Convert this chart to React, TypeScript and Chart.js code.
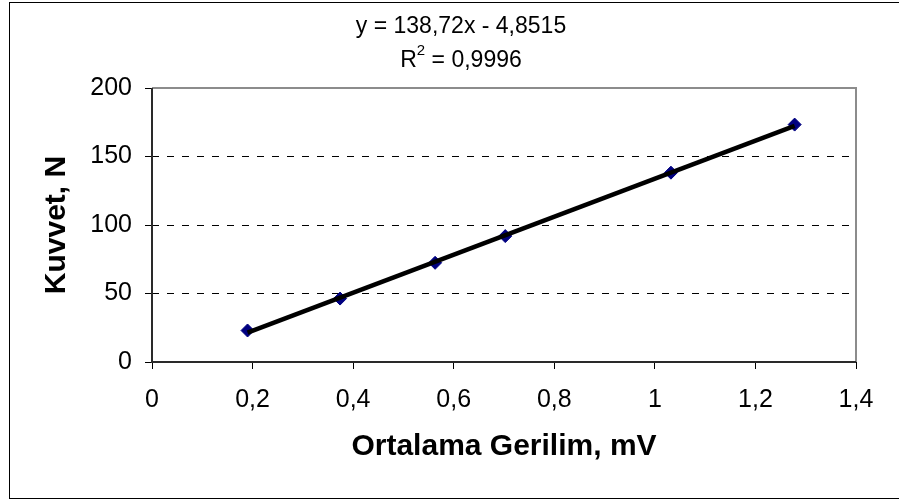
import React, { useEffect, useRef } from "react";
import { Chart, registerables } from "chart.js";

Chart.register(...registerables);

// ---- data ----
const voltage = [0.19, 0.374, 0.563, 0.7025, 1.032, 1.278];
const force = [23.0, 46.3, 72.4, 91.9, 138.2, 173.3];
const trendX = [0.19, 1.278];
const trendY = [21.5, 172.4];
const xTickLabels = ["0", "0,2", "0,4", "0,6", "0,8", "1", "1,2", "1,4"];
const yTickLabels = ["0", "50", "100", "150", "200"];
const equationText = "y = 138,72x - 4,8515";
const r2Label = "R";
const r2Sup = "2";
const r2Value = " = 0,9996";
const xTitle = "Ortalama Gerilim, mV";
const yTitle = "Kuvvet, N";

const FONT = "'Liberation Sans', Arial, sans-serif";

const framePlugin = {
  id: "framePlugin",
  beforeDraw(chart: any) {
    const ctx = chart.ctx;
    ctx.save();
    ctx.fillStyle = "#ffffff";
    ctx.fillRect(0, 0, chart.width, chart.height);
    ctx.strokeStyle = "#000000";
    ctx.lineWidth = 1;
    ctx.strokeRect(9.5, 2.5, chart.width + 20, 496);
    ctx.restore();
  },
  beforeDatasetsDraw(chart: any) {
    const { ctx, chartArea } = chart;
    const { left, right, top, bottom } = chartArea;
    ctx.save();
    ctx.lineWidth = 2;
    ctx.strokeStyle = "#8c8c8c";
    ctx.beginPath();
    ctx.moveTo(left, top);
    ctx.lineTo(right, top);
    ctx.lineTo(right, bottom);
    ctx.stroke();
    ctx.strokeStyle = "#2a2a2a";
    ctx.beginPath();
    ctx.moveTo(left, top);
    ctx.lineTo(left, bottom);
    ctx.lineTo(right, bottom);
    ctx.stroke();
    ctx.restore();
  },
  afterDraw(chart: any) {
    const ctx = chart.ctx;
    const cx = 461;
    ctx.save();
    ctx.fillStyle = "#000000";
    ctx.textBaseline = "alphabetic";
    ctx.font = `23px ${FONT}`;
    ctx.textAlign = "center";
    ctx.fillText(equationText, cx, 33);
    // second line with superscript
    ctx.textAlign = "left";
    const wR = ctx.measureText(r2Label).width;
    const wV = ctx.measureText(r2Value).width;
    ctx.font = `15px ${FONT}`;
    const wS = ctx.measureText(r2Sup).width;
    const total = wR + wS + wV;
    let x = cx - total / 2;
    ctx.font = `23px ${FONT}`;
    ctx.fillText(r2Label, x, 67);
    x += wR;
    ctx.font = `15px ${FONT}`;
    ctx.fillText(r2Sup, x, 55);
    x += wS;
    ctx.font = `23px ${FONT}`;
    ctx.fillText(r2Value, x, 67);
    ctx.restore();
  },
};

export default function App() {
  const canvasRef = useRef<HTMLCanvasElement | null>(null);

  useEffect(() => {
    if (!canvasRef.current) return;
    const chart = new Chart(canvasRef.current, {
      type: "scatter",
      data: {
        datasets: [
          {
            label: "Trend",
            data: trendX.map((x, i) => ({ x, y: trendY[i] })),
            showLine: true,
            borderColor: "#000000",
            borderWidth: 4.5,
            pointRadius: 0,
            pointHoverRadius: 0,
            order: 0,
          },
          {
            label: "Kuvvet",
            data: voltage.map((x, i) => ({ x, y: force[i] })),
            showLine: false,
            pointStyle: "rectRot",
            pointRadius: 6.5,
            pointBackgroundColor: "#000080",
            pointBorderColor: "#000080",
            pointBorderWidth: 1,
            order: 1,
          },
        ],
      },
      options: {
        responsive: false,
        animation: false,
        devicePixelRatio: 1,
        layout: { padding: { top: 88, right: 43, left: 0, bottom: 0 } },
        plugins: {
          legend: { display: false },
          tooltip: { enabled: false },
          title: { display: false },
        },
        scales: {
          x: {
            type: "linear",
            min: 0,
            max: 1.4,
            afterFit: (scale: any) => {
              scale.height = 137;
            },
            afterBuildTicks: (scale: any) => {
              scale.ticks = xTickLabels.map((_, i) => ({ value: i * 0.2 }));
            },
            ticks: {
              callback: (_v: any, i: number) => xTickLabels[i],
              color: "#000000",
              font: { family: FONT, size: 25 },
              padding: 16,
              maxRotation: 0,
              autoSkip: false,
            },
            grid: {
              drawOnChartArea: false,
              drawTicks: true,
              tickLength: 7,
              tickColor: "#000000",
              tickWidth: 1,
            },
            border: { display: false },
            title: {
              display: true,
              text: xTitle,
              color: "#000000",
              font: { family: FONT, size: 30, weight: "bold" },
              padding: { top: 0, bottom: 34 },
            },
          },
          y: {
            type: "linear",
            min: 0,
            max: 200,
            afterFit: (scale: any) => {
              scale.width = 152;
            },
            afterBuildTicks: (scale: any) => {
              scale.ticks = yTickLabels.map((t) => ({ value: Number(t) }));
            },
            ticks: {
              callback: (_v: any, i: number) => yTickLabels[i],
              color: "#000000",
              font: { family: FONT, size: 25 },
              padding: 13,
              autoSkip: false,
            },
            grid: {
              drawOnChartArea: true,
              drawTicks: true,
              tickLength: 7,
              tickColor: "#000000",
              tickWidth: 1,
              tickBorderDash: [],
              lineWidth: 1,
              borderDash: [7, 8],
              color: (ctx: any) =>
                ctx.tick && (ctx.tick.value === 0 || ctx.tick.value === 200)
                  ? "rgba(0,0,0,0)"
                  : "#000000",
            } as any,
            border: { display: false, dash: [7, 8] },
            title: {
              display: true,
              text: yTitle,
              color: "#000000",
              font: { family: FONT, size: 30, weight: "bold" },
              padding: { top: 39, bottom: 0 },
            },
          },
        },
      } as any,
      plugins: [framePlugin],
    });
    return () => chart.destroy();
  }, []);

  return (
    <div style={{ position: "absolute", left: 0, top: 0, width: 899, height: 499 }}>
      <canvas ref={canvasRef} width={899} height={499} style={{ display: "block" }} />
    </div>
  );
}
